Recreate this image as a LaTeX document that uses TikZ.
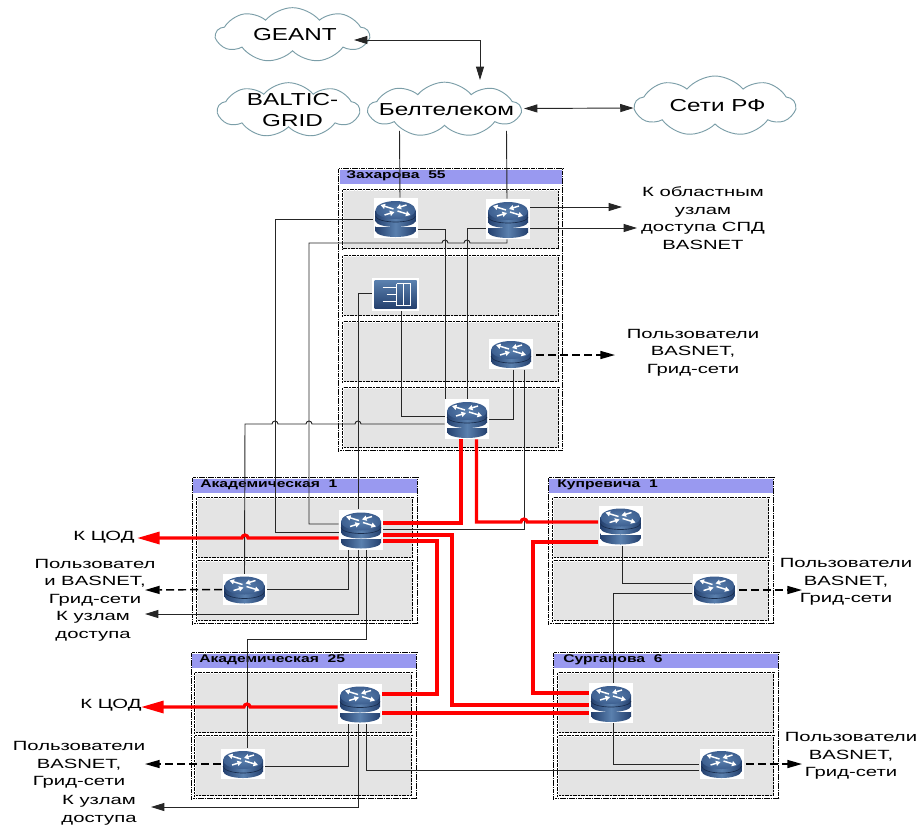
\documentclass[tikz,border=0pt]{standalone}
\usepackage{fontspec}
\setmainfont[FakeStretch=1.4]{Liberation Sans}
\newfontfamily\lblfont[FakeStretch=1.52]{Liberation Sans}
\usetikzlibrary{arrows.meta,calc,shapes.symbols}
\definecolor{hdrblue}{HTML}{9999F0}
\definecolor{roomgray}{HTML}{E4E4E4}
\definecolor{cloudline}{HTML}{7B9EA8}
\definecolor{rdark}{HTML}{24406E}
\definecolor{rmid}{HTML}{5A80AE}
\definecolor{rtop}{HTML}{3D5F90}
\newcommand{\hopl}[2]{-- ($(#1,#2)+(3,0)$) arc[start angle=0,end angle=-180,radius=3]}
\newcommand{\hopr}[2]{-- ($(#1,#2)+(-3,0)$) arc[start angle=180,end angle=360,radius=3]}
\newcommand{\diskarrows}[1]{\draw[white,line width=1.1pt,-{Triangle[length=3.4pt,width=3.8pt]}] (-2,#1-1)--(-15,#1-5);
  \draw[white,line width=1.1pt,-{Triangle[length=3.4pt,width=3.8pt]}] (2,#1+1)--(15,#1+5);
  \draw[white,line width=1.1pt,-{Triangle[length=3.4pt,width=3.8pt]}] (-11,#1+5)--(-1,#1+2);
  \draw[white,line width=1.1pt,-{Triangle[length=3.4pt,width=3.8pt]}] (11,#1-5)--(1,#1-2);}
\tikzset{
  wire/.style={draw=black!85,line width=.7pt},
  wirearrow/.style={wire,-{Triangle[length=10pt,width=6pt]}},
  wirearrows/.style={wire,{Triangle[length=10pt,width=6pt]}-{Triangle[length=10pt,width=6pt]}},
  dasharrow/.style={draw=black,line width=1.1pt,dash pattern=on 6pt off 3pt,-{Triangle[length=11pt,width=6pt]}},
  redlink/.style={draw=red,line width=2.4pt},
  redarrow/.style={redlink,-{Triangle[length=17pt,width=9pt]}},
  bldg/.style={draw=black,fill=white,line width=.8pt,double=white,double distance=.4pt,dash pattern=on 1.3pt off .4pt},
  room/.style={draw=black,fill=roomgray,line width=.8pt,double=white,double distance=.35pt,dash pattern=on 1.6pt off .4pt},
  hdr/.style={fill=hdrblue},
  addr/.style={anchor=west,inner sep=0pt,font=\fontsize{8.4}{10}\selectfont\bfseries},
  lbl/.style={align=center,inner sep=0pt,font=\lblfont\fontsize{10}{13.2}\selectfont},
  netcloud/.style={cloud,draw=cloudline,fill=white,line width=.7pt,cloud puffs=9,cloud puff arc=100,cloud ignores aspect,inner sep=0pt,align=center,font=\fontsize{13}{16}\selectfont},
  smallrouter/.style={rectangle,fill=white,inner sep=0pt,minimum width=33pt,minimum height=23.2pt,path picture={
    \begin{scope}[shift={(path picture bounding box.center)}]
      \shade[left color=rdark,right color=rdark,middle color=rmid] (0,7) ellipse [x radius=20,y radius=7];
      \shade[left color=rdark,right color=rdark,middle color=rmid] (-20,-4) rectangle (20,7);
      \draw[rdark!70!black,line width=.5pt] (-20,2) arc[start angle=180,end angle=0,x radius=20,y radius=7];
      \shade[inner color=rmid,outer color=rtop] (0,-4) ellipse [x radius=20,y radius=9];
      \diskarrows{-4}
    \end{scope}}},
  bigrouter/.style={rectangle,fill=white,inner sep=0pt,minimum width=33pt,minimum height=30pt,path picture={
    \begin{scope}[shift={(path picture bounding box.center)}]
      \shade[left color=rdark,right color=rdark,middle color=rmid] (0,13) ellipse [x radius=20,y radius=6];
      \shade[left color=rdark,right color=rdark,middle color=rmid] (-20,8) rectangle (20,13);
      \fill[white] (-20,7) rectangle (20,9);
      \shade[left color=rdark,right color=rdark,middle color=rmid] (0,3) ellipse [x radius=20,y radius=6];
      \shade[left color=rdark,right color=rdark,middle color=rmid] (-20,-8) rectangle (20,3);
      \draw[rdark!70!black,line width=.5pt] (-20,-2) arc[start angle=180,end angle=0,x radius=20,y radius=6];
      \shade[inner color=rmid,outer color=rtop] (0,-8) ellipse [x radius=20,y radius=9];
      \diskarrows{-8}
    \end{scope}}},
  firewall/.style={rectangle,fill=white,inner sep=0pt,minimum width=35pt,minimum height=25pt,path picture={
    \begin{scope}[shift={(path picture bounding box.center)}]
      \shade[top color=rmid,bottom color=rdark] (-21,-14) rectangle (21,14);
      \draw[white,line width=1.1pt] (-13,-7)--(0,-7) (-9,0)--(0,0) (-13,7)--(0,7) (1,-11)--(1,11) (1,-11)--(15,-11)--(15,11)--(1,11) (8,-11)--(8,11);
    \end{scope}}}
}
\begin{document}
\begin{tikzpicture}[x=.75pt,y=-.75pt]
  \useasboundingbox (0,0) rectangle (919,825);
  % clouds
  \node[netcloud,minimum width=114.5pt,minimum height=41pt] (geant) at (292.5,35) {\makebox[0pt]{\hspace{3.5pt}GEANT}};
  \node[netcloud,minimum width=106pt,minimum height=41pt] (baltic) at (288.5,110) {\makebox[0pt]{\hspace{6pt}BALTIC-}\\\makebox[0pt]{\hspace{6pt}GRID}};
  \node[netcloud,minimum width=114pt,minimum height=41pt] (beltel) at (444.5,109.5) {\makebox[0pt]{\hspace{3pt}Белтелеком}};
  \node[netcloud,minimum width=120pt,minimum height=45pt] (rfnet) at (715,106) {\makebox[0pt]{\hspace{4pt}Сети РФ}};
  % Zakharova 55
  \draw[bldg] (339,169) rectangle (563,451);
  \fill[hdr] (340,170) rectangle (562,184);
  \draw[room] (343,190) rectangle (559,249);
  \draw[room] (343,256) rectangle (559,316);
  \draw[room] (343,322) rectangle (559,382);
  \draw[room] (343,388) rectangle (559,448);
  \node[addr] (zakh) at (346,176) {Захарова\ \ 55};
  % Akademicheskaya 1
  \draw[bldg] (193,478) rectangle (418,624);
  \fill[hdr] (193,479) rectangle (417,493);
  \draw[room] (197,498) rectangle (413,558);
  \draw[room] (197,561) rectangle (413,621);
  \node[addr] (akad1) at (200,485) {Академическая\ \ 1};
  % Akademicheskaya 25
  \draw[bldg] (192,653) rectangle (417,799);
  \fill[hdr] (192,654) rectangle (416,668);
  \draw[room] (195,673) rectangle (412,733);
  \draw[room] (195,736) rectangle (412,796);
  \node[addr] (akad25) at (199,660) {Академическая\ \ 25};
  % Kuprevicha 1
  \draw[bldg] (549,478) rectangle (774,624);
  \fill[hdr] (549,479) rectangle (773,493);
  \draw[room] (553,498) rectangle (769,558);
  \draw[room] (553,561) rectangle (769,621);
  \node[addr] (kupr) at (557,485) {Купревича\ \ 1};
  % Surganova 6
  \draw[bldg] (554,653) rectangle (779,799);
  \fill[hdr] (554,654) rectangle (778,668);
  \draw[room] (558,673) rectangle (774,733);
  \draw[room] (558,736) rectangle (774,796);
  \node[addr] (surg) at (563,660) {Сурганова\ \ 6};
  % routers
  \node[bigrouter] (rz1) at (395.5,218) {};
  \node[bigrouter] (rz2) at (508,219) {};
  \node[firewall] (fw) at (395.5,294.5) {};
  \node[smallrouter] (rz3) at (511,354) {};
  \node[bigrouter] (rz4) at (467,419) {};
  \node[bigrouter] (ra1) at (361,529.5) {};
  \node[smallrouter] (ra2) at (244.5,589.5) {};
  \node[bigrouter] (rb1) at (360,703.5) {};
  \node[smallrouter] (rb2) at (243,764) {};
  \node[bigrouter] (rk1) at (620.5,525.5) {};
  \node[smallrouter] (rk2) at (714.5,589.5) {};
  \node[bigrouter] (rs1) at (611,703) {};
  \node[smallrouter] (rs2) at (721.5,764) {};
  % labels
  \node[lbl] (toobl) at (703,218) {К областным\\узлам\\доступа СПД\\BASNET};
  \node[lbl] (userz) at (693,352.5) {Пользователи\\BASNET,\\Грид-сети};
  \node[lbl] (coda) at (104,537) {К ЦОД};
  \node[lbl] (codb) at (111,705) {К ЦОД};
  \node[lbl] (usera) at (95,582.5) {Пользовател\\и BASNET,\\Грид-сети};
  \node[lbl] (accessa) at (93,626.5) {К узлам\\доступа};
  \node[lbl] (userb) at (79,765) {Пользователи\\BASNET,\\Грид-сети};
  \node[lbl] (accessb) at (99,810) {К узлам\\доступа};
  \node[lbl] (userk) at (846,582) {Пользователи\\BASNET,\\Грид-сети};
  \node[lbl] (users) at (851,756) {Пользователи\\BASNET,\\Грид-сети};
  % outer links
  \coordinate (geantin) at (354,40);
  \coordinate (beltop) at (480,80);
  \draw[wirearrows] (geantin) -| (beltop);
  \draw[wirearrows] ($(beltel.east)+(2,-1)$) -- ($(rfnet.west)+(0,2)$);
  \draw[wire] ($(beltel.south)+(-45,5)$) -- ($(rz1.north)+(4.5,0)$);
  \draw[wire] ($(beltel.south)+(62,5)$) -- ($(rz2.north)+(-1,0)$);
  % thin links
  \draw[wire] ($(rz1.west)+(0,1)$) -| (275,532) -- ($(ra1.west)+(0,2.5)$);
  \draw[wire] ($(rz2.south)+(-1,0)$) |- (500,243) \hopl{467}{243} \hopl{445}{243} -- (309,243) -- (309,524) -- ($(ra1.west)+(0,-5.5)$);
  \draw[wire] ($(rz1.east)+(0,11)$) -| ($(rz4.north)+(-22,0)$);
  \draw[wire] ($(rz2.west)+(0,9)$) -| (rz4.north);
  \draw[wire] (fw.west) ++(0,-1.5) -| ($(ra1.north)+(-3,0)$);
  \draw[wire] ($(fw.south)+(5.5,0)$) |- ($(rz4.west)+(0,-3)$);
  \draw[wire] ($(rz3.south)+(2,0)$) |- (rz4.east);
  \draw[wire] ($(rz3.south)+(13,0)$) |- (ra1.east);
  \draw[wire] ($(rz4.west)+(0,5)$) \hopl{358}{424} \hopl{309}{424} \hopl{275}{424} -- (245,424) -- (ra2.north);
  \draw[wire] ($(ra1.south)+(-13,0)$) |- (ra2.east);
  \draw[wire] ($(ra1.south)+(5,0)$) |- (366,639) -- (247,639) -- ($(rb2.north)+(4,0)$);
  \draw[wire] ($(rk1.south)+(1.5,0)$) |- ($(rk2.west)+(0,-6.5)$);
  \draw[wire] ($(rk2.west)+(0,3.5)$) -| ($(rs1.north)+(2,0)$);
  \draw[wire] ($(rs1.south)+(2,0)$) |- (rs2.west);
  \draw[wire] ($(rs2.west)+(0,6.5)$) -| ($(rb1.south)+(6,0)$);
  \draw[wire] ($(rb1.south)+(-12,0)$) |- ($(rb2.east)+(0,2)$);
  % thin arrows
  \coordinate (oblup) at (622,207);
  \coordinate (obldown) at (637,228);
  \coordinate (accessaend) at (145,614);
  \coordinate (accessbend) at (151,807);
  \draw[wirearrow] ($(rz2.east)+(0,-12)$) -- (oblup);
  \draw[wirearrow] ($(rz2.east)+(0,9)$) -- (obldown);
  \draw[wirearrow] ($(ra1.south)+(-3,0)$) |- (accessaend);
  \draw[wirearrow] ($(rb1.south)+(-2,0)$) |- (accessbend);
  % dashed arrows
  \coordinate (userzend) at (615,355);
  \coordinate (userkend) at (802,590);
  \coordinate (usersend) at (802,764);
  \coordinate (useraend) at (145,590);
  \coordinate (userbend) at (145,764);
  \draw[dasharrow] ($(rz3.east)+(3,1)$) -- (userzend);
  \draw[dasharrow] ($(rk2.east)+(2,0.5)$) -- (userkend);
  \draw[dasharrow] ($(rs2.east)+(2,0)$) -- (usersend);
  \draw[dasharrow] (ra2.west) -- (useraend);
  \draw[dasharrow] (rb2.west) -- (userbend);
  % red links
  \coordinate (codaend) at (137,538);
  \coordinate (codbend) at (141,707);
  \draw[redarrow] ($(ra1.west)+(0,8.5)$) \hopl{245}{538} -- (codaend);
  \draw[redarrow] ($(rb1.west)+(0,3.5)$) \hopl{247}{707} -- (codbend);
  \draw[redlink] ($(ra1.east)+(0,-6.5)$) -| ($(rz4.south)+(-6,0)$);
  \draw[redlink] ($(ra1.east)+(0,5.5)$) -| (452,705) -- ($(rs1.west)+(0,2)$);
  \draw[redlink] ($(ra1.east)+(0,11.5)$) -| (437,694) -- ($(rb1.east)+(0,-9.5)$);
  \draw[redlink] ($(rb1.east)+(0,9.5)$) -- ($(rs1.west)+(0,10)$);
  \draw[redlink] ($(rz4.south)+(9.5,0)$) -- (476.5,522) \hopr{524}{522} -- ($(rk1.west)+(0,-3.5)$);
  \draw[redlink] ($(rk1.west)+(0,16.5)$) -| (533,693) -- ($(rs1.west)+(0,-10)$);
\end{tikzpicture}
\end{document}
